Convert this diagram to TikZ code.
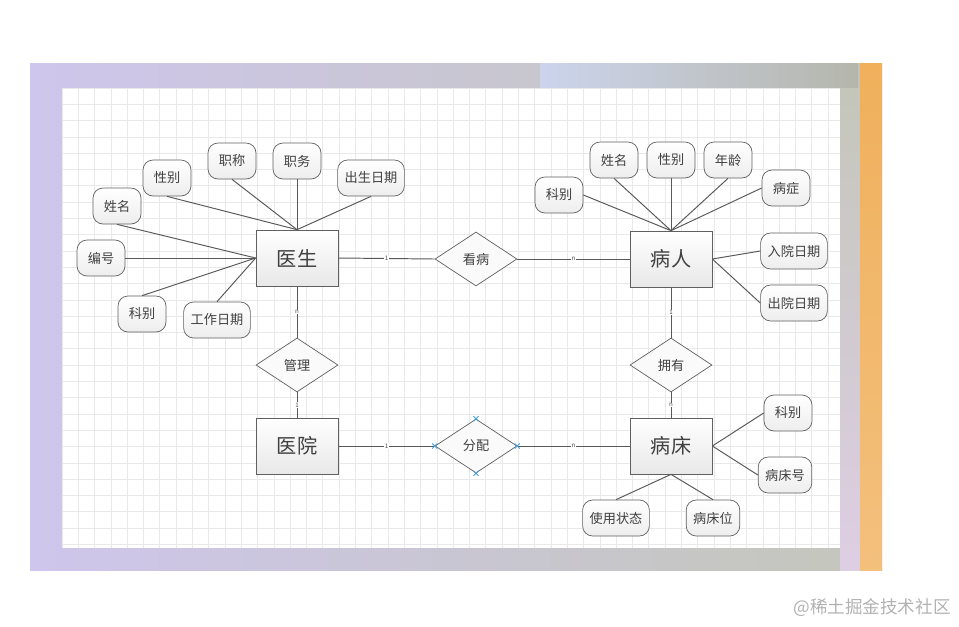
\documentclass[tikz,border=0pt]{standalone}
\usepackage{fontspec}
\setmainfont{Noto Sans CJK SC}
\usetikzlibrary{shapes.geometric}

\definecolor{framelilac}{RGB}{206,198,236}
\definecolor{frameblue}{RGB}{204,212,236}
\definecolor{framegrey}{RGB}{196,198,186}
\definecolor{framepink}{RGB}{222,206,228}
\definecolor{frameorange}{RGB}{240,176,92}
\definecolor{handleblue}{RGB}{70,160,220}

\tikzset{
  entity/.style={draw=gray!75!black, top color=white, bottom color=gray!18,
    minimum width=1.64cm, minimum height=1.12cm, font=\fontsize{11.5}{12}\selectfont, text=black!75},
  attr/.style={draw=gray!75!black, rounded corners=0.2cm, top color=white, bottom color=gray!14,
    minimum width=0.96cm, minimum height=0.72cm, inner xsep=4pt, font=\fontsize{7.5}{8}\selectfont, text=black!75},
  relation/.style={diamond, draw=gray!75!black, fill=gray!4, minimum width=1.64cm, minimum height=1.08cm,
    inner sep=0pt, font=\fontsize{7.5}{8}\selectfont, text=black!75},
  link/.style={draw=gray!70!black, line width=0.55pt},
  card/.style={fill=white, inner sep=0.4pt, font=\fontsize{3.5}{4}\selectfont, text=gray!60!black},
  gridline/.style={draw=gray!17, line width=0.4pt},
}

\begin{document}
\begin{tikzpicture}[x=0.02cm, y=-0.02cm]
  \useasboundingbox (0,0) rectangle (959,626);
  % Draw the photo frame behind the sheet
  \shade[left color=framelilac, middle color=frameblue, right color=framegrey] (30,63) rectangle (882,570);
  \shade[left color=frameblue, right color=framegrey!92!black] (540,63) rectangle (858,88);
  \shade[top color=framegrey, bottom color=framepink] (840,88) rectangle (860,570);
  \shade[top color=frameorange, bottom color=frameorange!80!white] (860,63) rectangle (882,570);
  % Draw the grid sheet
  \fill[white] (62,88) rectangle (840,548);
  \foreach \k in {0,...,47} \draw[gridline] ({62+16.3*\k},88) -- ({62+16.3*\k},548);
  \foreach \k in {0,...,28} \draw[gridline] (62,{88+16.3*\k}) -- (840,{88+16.3*\k});

  % Place the entities
  \node[entity] (doc)  at (297,258) {医生};
  \node[entity] (pat)  at (671,259) {病人};
  \node[entity] (hosp) at (297,446) {医院};
  \node[entity] (bed)  at (671,446) {病床};
  % Place the relations
  \node[relation] (see) at (476,259) {看病};
  \node[relation] (mgr) at (297,365) {管理};
  \node[relation] (asg) at (476,446) {分配};
  \node[relation] (own) at (671,365) {拥有};

  % Attributes of the doctor
  \node[attr] (dzc) at (232,161) {职称};
  \node[attr] (dzw) at (297,161) {职务};
  \node[attr] (dxb) at (167,178) {性别};
  \node[attr] (dcs) at (371,178) {出生日期};
  \node[attr] (dxm) at (117,206) {姓名};
  \node[attr] (dbh) at (101,258) {编号};
  \node[attr] (dkb) at (142,314) {科别};
  \node[attr] (dgz) at (217,320) {工作日期};
  % Attributes of the patient
  \node[attr] (pxm) at (614,160) {姓名};
  \node[attr] (pxb) at (671,160) {性别};
  \node[attr] (pnl) at (728,160) {年龄};
  \node[attr] (pkb) at (559,195) {科别};
  \node[attr] (pbz) at (786,188) {病症};
  \node[attr] (pry) at (794,251) {入院日期};
  \node[attr] (pcy) at (794,303) {出院日期};
  % Attributes of the bed
  \node[attr] (bkb) at (788,413) {科别};
  \node[attr] (bbh) at (785,475) {病床号};
  \node[attr] (bzt) at (616,518) {使用状态};
  \node[attr] (bcw) at (713,518) {病床位};

  % Draw the attribute lines
  \draw[link] (dzc.south) -- (doc.north);
  \draw[link] (dzw.south) -- (doc.north);
  \draw[link] (dxb.south) -- (doc.north);
  \draw[link] (dcs.south) -- (doc.north);
  \draw[link] (dxm.south) -- (doc.west);
  \draw[link] (dbh.east) -- (doc.west);
  \draw[link] (dkb.north) -- (doc.west);
  \draw[link] (dgz.north) -- (doc.west);
  \draw[link] (pxm.south) -- (pat.north);
  \draw[link] (pxb.south) -- (pat.north);
  \draw[link] (pnl.south) -- (pat.north);
  \draw[link] (pkb.east) -- (pat.north);
  \draw[link] (pbz.west) -- (pat.north);
  \draw[link] (pry.west) -- (pat.east);
  \draw[link] (pcy.west) -- (pat.east);
  \draw[link] (bkb.west) -- (bed.east);
  \draw[link] (bbh.west) -- (bed.east);
  \draw[link] (bzt.north) -- (bed.south);
  \draw[link] (bcw.north) -- (bed.south);

  % Draw the relation lines with 1 / n marks
  \draw[link] (doc.east) -- node[card] {1} (see.west);
  \draw[link] (see.east) -- node[card] {n} (pat.west);
  \draw[link] (doc.south) -- node[card] {n} (mgr.north);
  \draw[link] (mgr.south) -- node[card] {1} (hosp.north);
  \draw[link] (hosp.east) -- node[card] {1} (asg.west);
  \draw[link] (asg.east) -- node[card] {n} (bed.west);
  \draw[link] (pat.south) -- node[card] {1} (own.north);
  \draw[link] (own.south) -- node[card] {n} (bed.north);

  % Selection handles on the relation
  \foreach \a in {north,south,east,west}
    \draw[handleblue, line width=0.5pt] ([shift={(-2.5,-2.5)}]asg.\a) -- ++(5,5)
      ([shift={(-2.5,2.5)}]asg.\a) -- ++(5,-5);

  % Watermark
  \node[text=gray!60, font=\fontsize{10}{11}\selectfont] (mark) at (872,608) {@稀土掘金技术社区};
\end{tikzpicture}
\end{document}
